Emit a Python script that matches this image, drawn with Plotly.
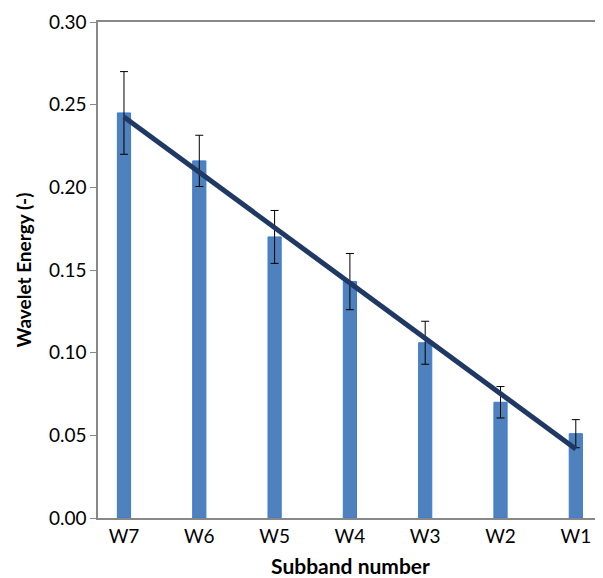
import plotly.graph_objects as go

categories = ["W7", "W6", "W5", "W4", "W3", "W2", "W1"]
energy = [0.245, 0.216, 0.170, 0.143, 0.106, 0.070, 0.051]
errors = [0.025, 0.0155, 0.016, 0.017, 0.013, 0.0095, 0.0085]
trend_x = ["W7", "W1"]
trend_y = [0.2426, 0.0417]
y_ticks = [0.00, 0.05, 0.10, 0.15, 0.20, 0.25, 0.30]
y_ticklabels = ["0.00", "0.05", "0.10", "0.15", "0.20", "0.25", "0.30"]

font_family = "Lato, 'Open Sans', sans-serif"

fig = go.Figure()
fig.add_trace(go.Bar(
    x=categories, y=energy,
    width=0.175,
    marker=dict(color="#4F81BD", line=dict(color="#3A7BD5", width=1)),
    error_y=dict(type="data", array=errors, visible=True,
                 color="#000000", thickness=1, width=4),
    showlegend=False,
))
fig.add_trace(go.Scatter(
    x=trend_x, y=trend_y, mode="lines",
    line=dict(color="#1F3864", width=5),
    showlegend=False,
))

# page body has an 8px margin, so the figure is 8px smaller and shifted
fig.update_layout(
    width=595, height=570,
    margin=dict(l=90, r=0, t=14, b=60),
    paper_bgcolor="white", plot_bgcolor="white",
    font=dict(family=font_family, size=17, color="#000000"),
    bargap=0.8,
)
fig.update_xaxes(
    range=[-0.345, 6.361],
    showline=True, linecolor="#888888", linewidth=1.5, mirror=True,
    ticks="", showgrid=False, zeroline=False,
    tickfont=dict(size=19),
    title=dict(text="<b>Subband number</b>", font=dict(size=21), standoff=14),
)
fig.update_yaxes(
    range=[0, 0.30],
    tickvals=y_ticks, ticktext=y_ticklabels,
    showline=True, linecolor="#888888", linewidth=1.5,
    ticks="outside", ticklen=6, tickcolor="#888888",
    showgrid=False, zeroline=False,
    tickfont=dict(size=19),
    title=dict(text="<b>Wavelet Energy (-)</b>", font=dict(size=19), standoff=12),
)

fig.write_html("out.html")
